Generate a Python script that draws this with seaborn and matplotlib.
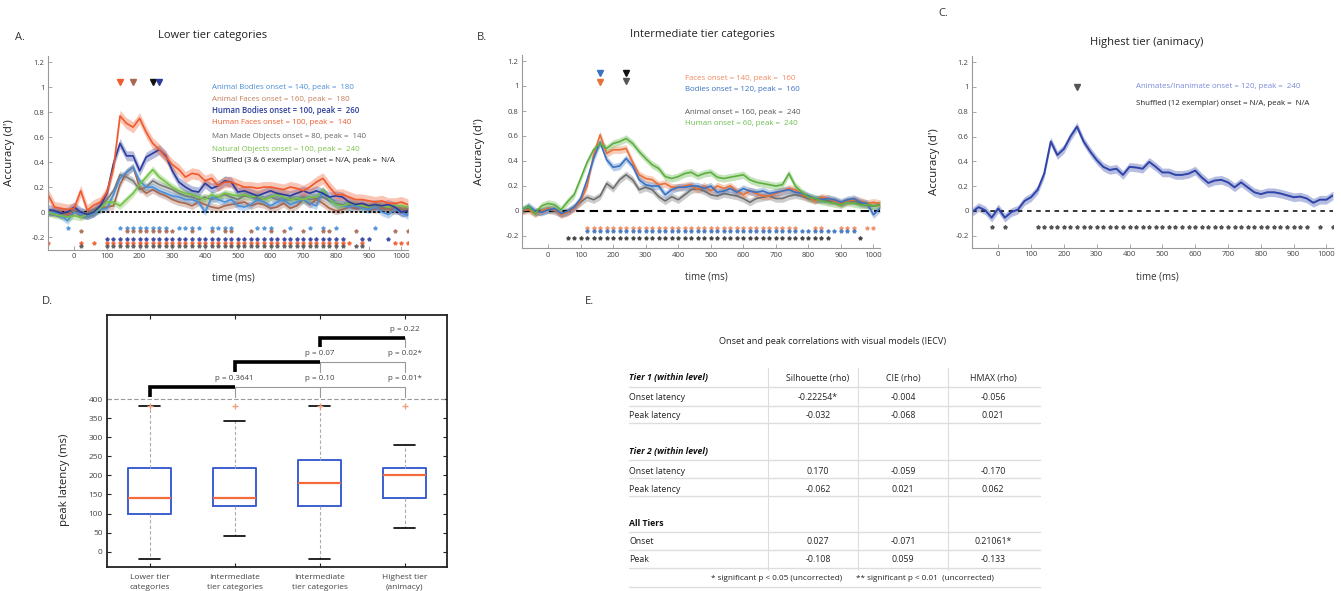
import matplotlib
matplotlib.use("Agg")
import matplotlib.pyplot as plt
import seaborn as sns

sns.set_theme(style="white")
plt.rcParams['font.family'] = ['Open Sans', 'DejaVu Sans']

# ----------------------------
# Data
# ----------------------------
times = list(range(-80, 1021, 20))

# Panel A: lower tier categories (d')
a_animal_bodies = [-0.01, 0.0, -0.03, -0.07, 0.0, -0.02, -0.03, -0.01, 0.02, 0.03,
                   0.14, 0.27, 0.32, 0.36, 0.25, 0.20, 0.20, 0.17, 0.15, 0.13,
                   0.12, 0.10, 0.10, 0.08, 0.0, 0.12, 0.10, 0.08, 0.10, 0.05,
                   0.04, 0.06, 0.10, 0.08, 0.05, 0.08, 0.10, 0.06, 0.08, 0.10,
                   0.07, 0.05, 0.17, 0.10, 0.06, 0.05, 0.04, 0.05, 0.03, 0.02,
                   0.04, 0.0, -0.02, 0.02, 0.0, -0.03]
a_animal_faces = [0.0, -0.01, 0.0, -0.02, 0.01, -0.03, -0.01, 0.0, 0.03, 0.04,
                  0.05, 0.22, 0.32, 0.36, 0.20, 0.15, 0.18, 0.15, 0.13, 0.10,
                  0.08, 0.07, 0.05, 0.08, 0.06, 0.04, 0.03, 0.05, 0.06, 0.07,
                  0.08, 0.05, 0.07, 0.06, 0.03, 0.04, 0.07, 0.03, 0.05, 0.10,
                  0.06, 0.10, 0.07, 0.03, 0.01, 0.02, 0.04, 0.03, 0.04, 0.03,
                  0.02, 0.03, 0.02, 0.01, 0.02, 0.01]
a_human_bodies = [0.02, 0.01, -0.01, 0.0, 0.04, 0.0, -0.02, 0.0, 0.05, 0.15,
                  0.39, 0.55, 0.45, 0.45, 0.33, 0.44, 0.47, 0.50, 0.45, 0.33,
                  0.24, 0.20, 0.17, 0.16, 0.23, 0.19, 0.21, 0.25, 0.24, 0.16,
                  0.17, 0.15, 0.13, 0.15, 0.17, 0.15, 0.14, 0.13, 0.15, 0.17,
                  0.15, 0.17, 0.15, 0.12, 0.13, 0.12, 0.08, 0.06, 0.07, 0.05,
                  0.06, 0.05, 0.06, 0.04, 0.0, 0.01]
a_human_faces = [0.14, 0.04, 0.03, 0.02, 0.03, 0.17, 0.015, 0.055, 0.08, 0.16,
                 0.35, 0.77, 0.71, 0.68, 0.75, 0.64, 0.55, 0.50, 0.44, 0.38,
                 0.34, 0.28, 0.31, 0.30, 0.25, 0.27, 0.21, 0.24, 0.24, 0.22,
                 0.20, 0.20, 0.19, 0.20, 0.20, 0.19, 0.18, 0.20, 0.19, 0.17,
                 0.20, 0.24, 0.27, 0.20, 0.14, 0.14, 0.12, 0.10, 0.10, 0.09,
                 0.08, 0.09, 0.07, 0.07, 0.08, 0.06]
a_man_made = [0.0, 0.01, -0.01, 0.0, 0.02, 0.0, -0.01, 0.02, 0.05, 0.10,
              0.17, 0.30, 0.28, 0.25, 0.18, 0.20, 0.25, 0.22, 0.20, 0.18,
              0.15, 0.13, 0.12, 0.10, 0.12, 0.10, 0.12, 0.14, 0.12, 0.10,
              0.13, 0.12, 0.11, 0.10, 0.12, 0.10, 0.09, 0.11, 0.10, 0.12,
              0.10, 0.11, 0.12, 0.09, 0.07, 0.06, 0.06, 0.05, 0.05, 0.04,
              0.05, 0.04, 0.03, 0.03, 0.02, 0.02]
a_natural = [0.0, -0.02, -0.03, -0.04, -0.03, -0.04, -0.02, 0.0, 0.03, 0.08,
             0.08, 0.05, 0.10, 0.15, 0.22, 0.28, 0.34, 0.28, 0.24, 0.20,
             0.17, 0.15, 0.14, 0.12, 0.10, 0.14, 0.12, 0.15, 0.14, 0.13,
             0.14, 0.12, 0.13, 0.10, 0.12, 0.14, 0.12, 0.10, 0.11, 0.10,
             0.12, 0.12, 0.18, 0.10, 0.06, 0.05, 0.07, 0.06, 0.05, 0.04,
             0.06, 0.05, 0.04, 0.05, 0.05, 0.04]

# Panel B: intermediate tier categories (d')
b_faces = [0.0, 0.01, -0.02, 0.0, 0.02, 0.01, -0.03, -0.01, 0.02, 0.08,
           0.20, 0.45, 0.61, 0.46, 0.49, 0.49, 0.50, 0.39, 0.29, 0.26,
           0.25, 0.21, 0.22, 0.19, 0.19, 0.20, 0.21, 0.17, 0.20, 0.16,
           0.20, 0.18, 0.20, 0.16, 0.13, 0.16, 0.14, 0.12, 0.12, 0.14,
           0.16, 0.18, 0.17, 0.13, 0.11, 0.08, 0.11, 0.10, 0.08, 0.06,
           0.08, 0.09, 0.08, 0.06, 0.07, 0.06]
b_bodies = [0.0, 0.04, 0.0, -0.01, 0.01, 0.02, -0.02, 0.0, 0.03, 0.10,
            0.25, 0.42, 0.55, 0.41, 0.35, 0.36, 0.42, 0.36, 0.25, 0.21,
            0.20, 0.20, 0.13, 0.17, 0.19, 0.19, 0.20, 0.20, 0.18, 0.20,
            0.15, 0.16, 0.18, 0.15, 0.18, 0.16, 0.15, 0.16, 0.14, 0.15,
            0.16, 0.17, 0.15, 0.14, 0.12, 0.10, 0.09, 0.10, 0.09, 0.07,
            0.09, 0.10, 0.07, 0.06, -0.03, 0.02]
b_animal = [0.01, 0.02, -0.01, 0.0, 0.01, 0.0, -0.02, -0.01, 0.03, 0.07,
            0.11, 0.09, 0.12, 0.22, 0.18, 0.25, 0.29, 0.25, 0.17, 0.19,
            0.17, 0.115, 0.08, 0.115, 0.09, 0.13, 0.17, 0.18, 0.16, 0.13,
            0.12, 0.14, 0.13, 0.12, 0.10, 0.07, 0.10, 0.11, 0.12, 0.10,
            0.10, 0.12, 0.13, 0.12, 0.10, 0.09, 0.10, 0.08, 0.08, 0.06,
            0.08, 0.08, 0.06, 0.05, 0.04, 0.05]
b_human = [0.01, 0.035, -0.02, 0.04, 0.06, 0.05, 0.01, 0.075, 0.13, 0.26,
           0.39, 0.49, 0.54, 0.50, 0.54, 0.555, 0.58, 0.54, 0.475, 0.42,
           0.37, 0.34, 0.275, 0.26, 0.275, 0.30, 0.31, 0.28, 0.30, 0.31,
           0.27, 0.26, 0.27, 0.28, 0.29, 0.25, 0.23, 0.22, 0.21, 0.20,
           0.21, 0.30, 0.20, 0.15, 0.11, 0.10, 0.08, 0.07, 0.06, 0.05,
           0.07, 0.06, 0.05, 0.05, 0.04, 0.05]

# Panel C: highest tier (d')
c_animacy = [-0.01, 0.03, 0.005, -0.055, 0.02, -0.055, -0.01, 0.01, 0.08, 0.11,
             0.17, 0.30, 0.56, 0.45, 0.50, 0.60, 0.68, 0.56, 0.48, 0.41,
             0.355, 0.33, 0.34, 0.29, 0.355, 0.35, 0.34, 0.395, 0.355, 0.31,
             0.31, 0.29, 0.29, 0.30, 0.325, 0.27, 0.225, 0.245, 0.25, 0.23,
             0.19, 0.23, 0.19, 0.15, 0.135, 0.15, 0.15, 0.14, 0.125, 0.11,
             0.115, 0.10, 0.065, 0.09, 0.09, 0.125]

# significant time windows (start, end) in ms
a_sig = {
    "animal_bodies": [(-20, -20), (140, 280), (320, 380), (420, 480), (560, 600), (660, 660), (720, 720), (760, 760), (800, 800), (920, 920)],
    "animal_faces": [(20, 20), (160, 300), (360, 360), (420, 420), (460, 480), (540, 540), (600, 600), (640, 640), (700, 700), (760, 780), (860, 860), (980, 980), (1020, 1020)],
    "human_bodies": [(100, 820), (880, 900), (960, 960)],
    "human_faces": [(-80, -80), (20, 20), (60, 60), (100, 840), (880, 880), (980, 1020)],
    "man_made": [(20, 20), (100, 820), (860, 880)],
}
a_sig_y = {"animal_bodies": -0.125, "animal_faces": -0.152, "human_bodies": -0.213,
           "human_faces": -0.245, "man_made": -0.272}
b_sig = {
    "faces": [(120, 760), (820, 840), (900, 940), (980, 1000)],
    "bodies": [(120, 860), (880, 940)],
    "animal": [(60, 100), (120, 860), (960, 960)],
}
b_sig_y = {"faces": -0.135, "bodies": -0.16, "animal": -0.22}
c_sig = [(-20, -20), (20, 20), (120, 940), (980, 980), (1020, 1020)]

# legend text entries
a_labels = ["Animal Bodies onset = 140, peak =  180", "Animal Faces onset = 160, peak =  180",
            "Human Bodies onset = 100, peak =  260", "Human Faces onset = 100, peak =  140",
            "Man Made Objects onset = 80, peak =  140", "Natural Objects onset = 100, peak =  240",
            "Shuffled (3 & 6 exemplar) onset = N/A, peak =  N/A"]
b_labels = ["Faces onset = 140, peak =  160", "Bodies onset = 120, peak =  160",
            "Animal onset = 160, peak =  240", "Human onset = 60, peak =  240"]
c_labels = ["Animates/Inanimate onset = 120, peak =  240", "Shuffled (12 exemplar) onset = N/A, peak =  N/A"]

# peak markers
a_peak_t = [140, 180, 240, 260]
b_peak_t = [160, 160, 240, 240]
c_peak_t = [240]

# Panel D: peak latency boxes
box_labels = ["Lower tier\ncategories", "Intermediate\ntier categories",
              "Intermediate\ntier categories", "Highest tier\n(animacy)"]
box_q1 = [100, 120, 120, 140]
box_med = [140, 140, 180, 200]
box_q3 = [220, 220, 240, 220]
box_lo = [-18, 42, -18, 62]
box_hi = [382, 342, 382, 280]
box_out = [382, 382, 382, 382]
bracket_level = [431, 498, 559]
bracket_foot = [405, 472, 536]
bracket_p = [["p = 0.3641", "p = 0.10", "p = 0.01*"], ["p = 0.07", "p = 0.02*"], ["p = 0.22"]]

# Panel E: correlation table
tbl_cols = ["Silhouette (rho)", "CIE (rho)", "HMAX (rho)"]
tbl_sections = ["Tier 1 (within level)", "Tier 2 (within level)", "All Tiers"]
tbl_rows = [["Onset latency", "Peak latency"], ["Onset latency", "Peak latency"], ["Onset", "Peak"]]
tbl_vals = [[["-0.22254*", "-0.004", "-0.056"], ["-0.032", "-0.068", "0.021"]],
            [["0.170", "-0.059", "-0.170"], ["-0.062", "0.021", "0.062"]],
            [["0.027", "-0.071", "0.21061*"], ["-0.108", "0.059", "-0.133"]]]

# ----------------------------
# Figure
# ----------------------------
W, H = 1341, 591
fig = plt.figure(figsize=(W / 100, H / 100), dpi=100)
fig.patch.set_facecolor("white")


def px_axes(left, top, right, bottom):
    return fig.add_axes([left / W, 1 - bottom / H, (right - left) / W, (bottom - top) / H])


def expand(runs):
    out = []
    for s, e in runs:
        out += list(range(s, e + 1, 20))
    return out


def style_time(ax, title, tx, ty, lx, ly):
    ax.set_xlim(-80, 1020)
    ax.set_ylim(-0.3, 1.25)
    ax.set_xticks(range(0, 1001, 100))
    ax.set_yticks([-0.2, 0, 0.2, 0.4, 0.6, 0.8, 1, 1.2])
    ax.set_yticklabels(["-0.2", "0", "0.2", "0.4", "0.6", "0.8", "1", "1.2"])
    for s in ["top", "right"]:
        ax.spines[s].set_visible(False)
    for s in ["left", "bottom"]:
        ax.spines[s].set_color("#999999")
        ax.spines[s].set_linewidth(0.8)
    ax.tick_params(direction="in", length=3, width=0.6, labelsize=5.6, colors="#999999",
                   labelcolor="#444444", pad=2.5, left=True, bottom=True)
    ax.set_facecolor("white")
    ax.set_xlabel("time (ms)", fontsize=7, color="#333333")
    ax.xaxis.set_label_coords(0.514, -0.12)
    ax.set_ylabel("Accuracy (d')", fontsize=8.2, color="#222222")
    ax.yaxis.set_label_coords(lx, ly)
    ax.text(tx, ty, title, transform=ax.transAxes, ha="center", va="center", fontsize=8, color="#222222")


def draw_series(ax, vals, color, err, lw=1.2):
    lo = [v - err for v in vals]
    hi = [v + err for v in vals]
    ax.fill_between(times, lo, hi, color=color, alpha=0.35, lw=0)
    sns.lineplot(x=times, y=vals, color=color, lw=lw, ax=ax)


# ---- Panel A
col_ab, col_af, col_hb, col_hf = "#4a8fd8", "#a8674e", "#2c3c9e", "#f05a2c"
col_mm, col_no = "#7a7a7a", "#74c246"
axa = px_axes(48, 56, 408, 249.5)
axa.axhline(0, color="black", ls=(0, (1.5, 1)), lw=1.3)
for vals, c, e in [(a_man_made, col_mm, 0.03), (a_animal_faces, col_af, 0.03),
                   (a_animal_bodies, col_ab, 0.03), (a_natural, col_no, 0.03),
                   (a_human_bodies, col_hb, 0.04), (a_human_faces, col_hf, 0.045)]:
    draw_series(axa, vals, c, e)
for key, c in [("animal_bodies", col_ab), ("animal_faces", col_af), ("human_bodies", col_hb),
               ("human_faces", col_hf), ("man_made", "#555555")]:
    ts = expand(a_sig[key])
    axa.plot(ts, [a_sig_y[key]] * len(ts), ls="none", marker="*", ms=2.8, color=c, alpha=0.8)
for t, c in zip(a_peak_t, [col_hf, col_af, "#111111", col_hb]):
    axa.plot([t], [1.04], marker="v", ms=4.5, color=c, ls="none")
a_label_cols = [col_ab, "#c4805e", col_hb, col_hf, "#666666", "#7cc24a", "#222222"]
for lbl, c, y in zip(a_labels, a_label_cols, [1.0, 0.905, 0.81, 0.715, 0.605, 0.505, 0.415]):
    axa.text(420, y, lbl, color=c, fontsize=5.7, va="center",
             fontweight="semibold" if "Human Bodies" in lbl else "normal")
style_time(axa, "Lower tier categories", 0.456, 1.108, -0.092, 0.5)

# ---- Panel B
col_bf, col_bb, col_ba, col_bh = "#e8703a", "#3a72c2", "#6e6e6e", "#5cb040"
axb = px_axes(522, 54.75, 880, 248.5)
axb.axhline(0, color="black", ls=(0, (4, 2.5)), lw=1.5)
for vals, c in [(b_animal, col_ba), (b_faces, col_bf), (b_bodies, col_bb), (b_human, col_bh)]:
    draw_series(axb, vals, c, 0.03)
for key, c in [("faces", "#f08a60"), ("bodies", col_bb), ("animal", "#333333")]:
    ts = expand(b_sig[key])
    axb.plot(ts, [b_sig_y[key]] * len(ts), ls="none", marker="*", ms=2.8, color=c, alpha=0.8)
for t, c, y in zip(b_peak_t, [col_bb, col_bf, "#111111", "#555555"], [1.1, 1.03, 1.1, 1.04]):
    axb.plot([t], [y], marker="v", ms=4.5, color=c, ls="none")
for lbl, c, y in zip(b_labels, ["#f08a60", col_bb, "#555555", "#6cc050"], [1.06, 0.97, 0.79, 0.70]):
    axb.text(422, y, lbl, color=c, fontsize=5.7, va="center")
style_time(axb, "Intermediate tier categories", 0.503, 1.103, -0.103, 0.5)

# ---- Panel C
col_c = "#2f44a8"
axc = px_axes(972, 56, 1333, 248)
axc.axhline(0, color="black", ls=(0, (3, 3)), lw=1.1)
draw_series(axc, c_animacy, col_c, 0.035, lw=1.4)
ts = expand(c_sig)
axc.plot(ts, [-0.13] * len(ts), ls="none", marker="*", ms=2.8, color="#555555")
axc.plot(c_peak_t, [1.0], marker="v", ms=4.5, color="#555555", ls="none")
for lbl, c, y in zip(c_labels, ["#7a8ad8", "#222222"], [1.0, 0.87]):
    axc.text(420, y, lbl, color=c, fontsize=5.7, va="center")
style_time(axc, "Highest tier (animacy)", 0.485, 1.068, -0.089, 0.45)

# ---- Panel D
axd = px_axes(107, 315, 447, 567)
stats = [dict(med=m, q1=a, q3=b, whislo=lo, whishi=hi, fliers=[f])
         for m, a, b, lo, hi, f in zip(box_med, box_q1, box_q3, box_lo, box_hi, box_out)]
axd.axhline(400, color="#999999", ls=(0, (4, 2)), lw=0.8)
axd.bxp(stats, positions=[1, 2, 3, 4], widths=0.51, capwidths=0.25, showfliers=True,
        boxprops=dict(color="#3b5fd0", lw=1.4),
        medianprops=dict(color="#f26b3a", lw=1.6),
        whiskerprops=dict(color="#aaaaaa", ls=(0, (3, 2)), lw=0.8),
        capprops=dict(color="black", lw=1.2),
        flierprops=dict(marker="+", markeredgecolor="#f4a080", ms=4))
for i, (lev, foot, plist) in enumerate(zip(bracket_level, bracket_foot, bracket_p)):
    s = i + 1
    axd.plot([s + 1, 4], [lev, lev], color="#999999", lw=0.8)
    for j, p in enumerate(range(s + 1, 5)):
        axd.plot([p, p], [foot, lev], color="#999999", lw=0.8)
        axd.text(p, lev + 22, plist[j], ha="center", va="center", fontsize=5.8, color="#444444")
    axd.plot([s, s, s + 1], [foot, lev, lev], color="black", lw=2.6, solid_joinstyle="miter",
             solid_capstyle="butt")
axd.set_xlim(0.5, 4.5)
axd.set_ylim(-40, 620)
axd.set_yticks(range(0, 401, 50))
axd.set_xticks([1, 2, 3, 4])
axd.set_xticklabels(box_labels, fontsize=6, color="#444444", linespacing=1.6)
for s in axd.spines.values():
    s.set_color("#222222")
    s.set_linewidth(1.3)
axd.tick_params(axis="y", labelsize=6, labelcolor="#444444")
axd.tick_params(direction="in", length=3, width=0.8, left=True, right=True, top=True,
                bottom=True, pad=3, color="#222222")
axd.tick_params(axis="x", pad=5)
axd.set_ylabel("peak latency (ms)", fontsize=8.2, color="#222222")
axd.yaxis.set_label_coords(-0.109, 0.345)

# ---- Panel E
axe = px_axes(580, 290, 1341, 591)
axe.set_xlim(580, 1341)
axe.set_ylim(591, 290)
axe.axis("off")
tf = 6.3
axe.text(833, 341, "Onset and peak correlations with visual models (IECV)", ha="center",
         va="center", fontsize=6.6, color="#222222")
col_x = [818, 903, 993]
grid_c = "#dddddd"
for x in [768, 858, 948]:
    axe.plot([x, x], [368, 570], color=grid_c, lw=0.8)
for y in [387, 406, 423, 460, 478, 496, 532, 550, 568, 587]:
    axe.plot([629, 1040], [y, y], color=grid_c, lw=1.0)
sec_y = [378, 452, 523]
for k, sec in enumerate(tbl_sections):
    y0 = sec_y[k]
    axe.text(629, y0, sec, ha="left", va="center", fontsize=tf,
             fontweight="bold", fontstyle="italic" if k < 2 else "normal", color="#111111")
    if k == 0:
        for x, c in zip(col_x, tbl_cols):
            axe.text(x, y0, c, ha="center", va="center", fontsize=tf, color="#222222")
    for r, (rname, vals) in enumerate(zip(tbl_rows[k], tbl_vals[k])):
        y = y0 + 19 + r * 18
        axe.text(629, y, rname, ha="left", va="center", fontsize=tf, color="#222222")
        for x, v in zip(col_x, vals):
            axe.text(x, y, v, ha="center", va="center", fontsize=tf, color="#222222")
axe.text(777, 578, "* significant p < 0.05 (uncorrected)", ha="center", va="center",
         fontsize=5.9, color="#222222")
axe.text(925, 578, "** significant p < 0.01  (uncorrected)", ha="center", va="center",
         fontsize=5.9, color="#222222")

# panel letters
for lbl, x, y in [("A.", 20, 38), ("B.", 482, 38), ("C.", 943, 13), ("D.", 47, 302), ("E.", 590, 302)]:
    fig.text(x / W, 1 - y / H, lbl, fontsize=8, color="#333333", ha="center", va="center")

fig.savefig("out.png", dpi=100)
